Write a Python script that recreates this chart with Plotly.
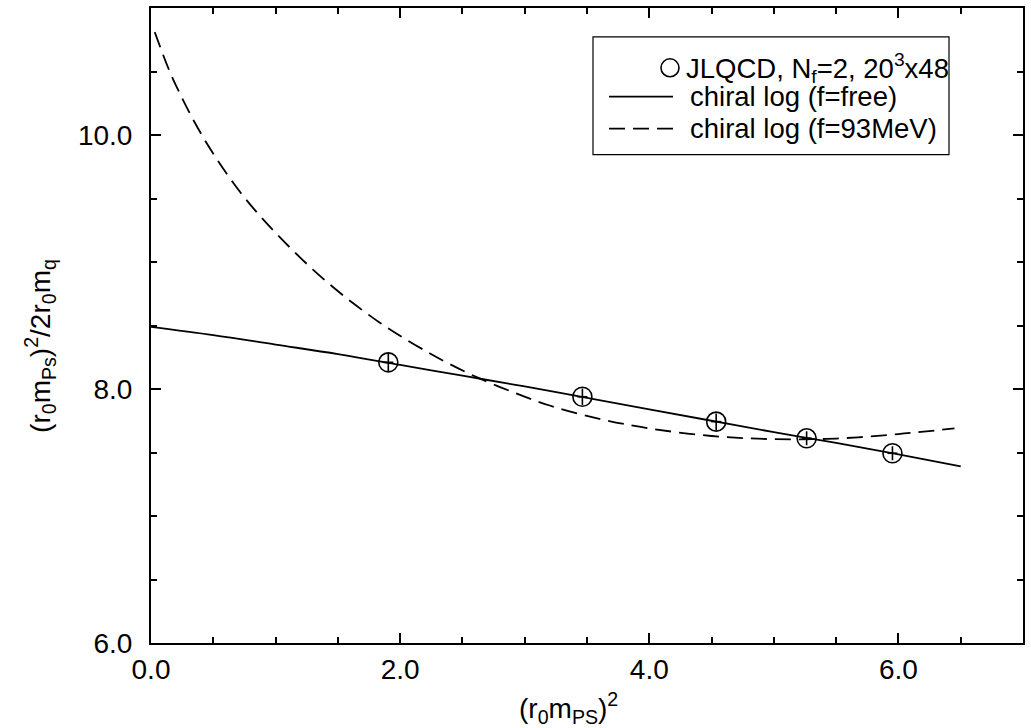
import plotly.graph_objects as go

# ---- data ----
pts_x = [1.905, 3.463, 4.537, 5.263, 5.952]
pts_y = [8.210, 7.939, 7.743, 7.612, 7.494]
pts_ey = [0.07, 0.065, 0.065, 0.055, 0.055]
pts_ex = [0.04, 0.04, 0.04, 0.04, 0.04]

free_x = [0.0, 0.5, 1.0, 1.5, 2.0, 2.5, 3.0, 3.5, 4.0, 4.5, 5.0, 5.5, 6.0, 6.5]
free_y = [8.49, 8.425, 8.35, 8.275, 8.19, 8.105, 8.02, 7.93, 7.84, 7.75, 7.66, 7.575, 7.485, 7.39]

f93_x = [0.03, 0.15, 0.25, 0.35, 0.46, 0.59, 0.72, 0.86, 1.0, 1.14, 1.3, 1.47, 1.65, 1.84,
         2.03, 2.24, 2.4, 2.61, 2.88, 3.2, 3.6, 4.0, 4.5, 5.0, 5.5, 6.0, 6.45]
f93_y = [10.81, 10.50, 10.29, 10.10, 9.915, 9.72, 9.545, 9.38, 9.23, 9.09, 8.94, 8.795, 8.655, 8.52,
         8.40, 8.28, 8.195, 8.095, 7.985, 7.87, 7.765, 7.69, 7.63, 7.605, 7.61, 7.645, 7.69]

x_ticks = [0, 2, 4, 6]
y_ticks = [6, 8, 10]

legend_labels = ["JLQCD, N<sub>f</sub>=2, 20<sup>3</sup>x48",
                 "chiral log (f=free)",
                 "chiral log (f=93MeV)"]

FONT = "Liberation Sans, Arial, Helvetica, sans-serif"

fig = go.Figure()
fig.add_trace(go.Scatter(x=free_x, y=free_y, mode="lines",
                         line=dict(color="black", width=1.8), line_shape="spline",
                         showlegend=False))
fig.add_trace(go.Scatter(x=f93_x, y=f93_y, mode="lines",
                         line=dict(color="black", width=1.8, dash="16px,8px"), line_shape="spline",
                         showlegend=False))
fig.add_trace(go.Scatter(x=pts_x, y=pts_y, mode="markers",
                         marker=dict(symbol="circle-open", size=19, color="black",
                                     line=dict(color="black", width=1.6)),
                         error_y=dict(type="data", array=pts_ey, color="black", thickness=1.6, width=0),
                         error_x=dict(type="data", array=pts_ex, color="black", thickness=1.6, width=0),
                         showlegend=False))

axis_common = dict(showline=True, linecolor="black", linewidth=2, mirror="ticks",
                   ticks="inside", ticklen=10, tickwidth=1.8, tickcolor="black",
                   showgrid=False, zeroline=False, tickformat=".1f",
                   tickfont=dict(family=FONT, size=28, color="black"),
                   minor=dict(ticks="inside", ticklen=6, tickwidth=1.5, tickcolor="black",
                              dtick=0.5, showgrid=False))

fig.update_xaxes(range=[0, 7], tickvals=x_ticks, **axis_common)
fig.update_yaxes(range=[6, 11], tickvals=y_ticks, ticklabelstandoff=11, **axis_common)

W, H = 1031, 728
L, R, T, B = 151, 8, 6, 85
pw, ph = W - L - R, H - T - B

def px(xp):
    return (xp - L) / pw

def py(yp):
    return (H - B - yp) / ph

shapes = []
annots = []
# legend box
shapes.append(dict(type="rect", xref="paper", yref="paper", x0=px(593), x1=px(949),
                   y0=py(153), y1=py(35), line=dict(color="black", width=1.2),
                   fillcolor="white", layer="above"))
# legend row 1: open circle
shapes.append(dict(type="circle", xref="paper", yref="paper", xsizemode="pixel", ysizemode="pixel",
                   xanchor=px(670), yanchor=py(66), x0=-9, x1=9, y0=-9, y1=9,
                   line=dict(color="black", width=1.6), layer="above"))
# legend row 2: solid
shapes.append(dict(type="line", xref="paper", yref="paper", x0=px(609), x1=px(673),
                   y0=py(95), y1=py(95), line=dict(color="black", width=1.8), layer="above"))
# legend row 3: dashed
shapes.append(dict(type="line", xref="paper", yref="paper", x0=px(609), x1=px(673),
                   y0=py(127), y1=py(127), line=dict(color="black", width=1.8, dash="16px,8px"),
                   layer="above"))
rows_y = [66, 95, 127]
rows_x = [684, 688, 688]
for lab, yy, xx in zip(legend_labels, rows_y, rows_x):
    annots.append(dict(text=lab, xref="paper", yref="paper", x=px(xx), y=py(yy),
                       xanchor="left", yanchor="middle", showarrow=False,
                       font=dict(family=FONT, size=27.5, color="black")))

# axis titles
annots.append(dict(text="(r<sub>0</sub>m<sub>PS</sub>)<sup>2</sup>", xref="paper", yref="paper",
                   x=px(568), y=py(708), xanchor="center", yanchor="middle", showarrow=False,
                   font=dict(family=FONT, size=28, color="black")))
annots.append(dict(text="(r<sub>0</sub>m<sub>Ps</sub>)<sup>2</sup>/2r<sub>0</sub>m<sub>q</sub>",
                   xref="paper", yref="paper", x=px(40), y=py(345), xanchor="center",
                   yanchor="middle", textangle=-90, showarrow=False,
                   font=dict(family=FONT, size=28, color="black")))

fig.update_layout(width=W, height=H, margin=dict(l=L, r=R, t=T, b=B),
                  paper_bgcolor="white", plot_bgcolor="white",
                  shapes=shapes, annotations=annots, showlegend=False)

fig.write_html("out.html")
